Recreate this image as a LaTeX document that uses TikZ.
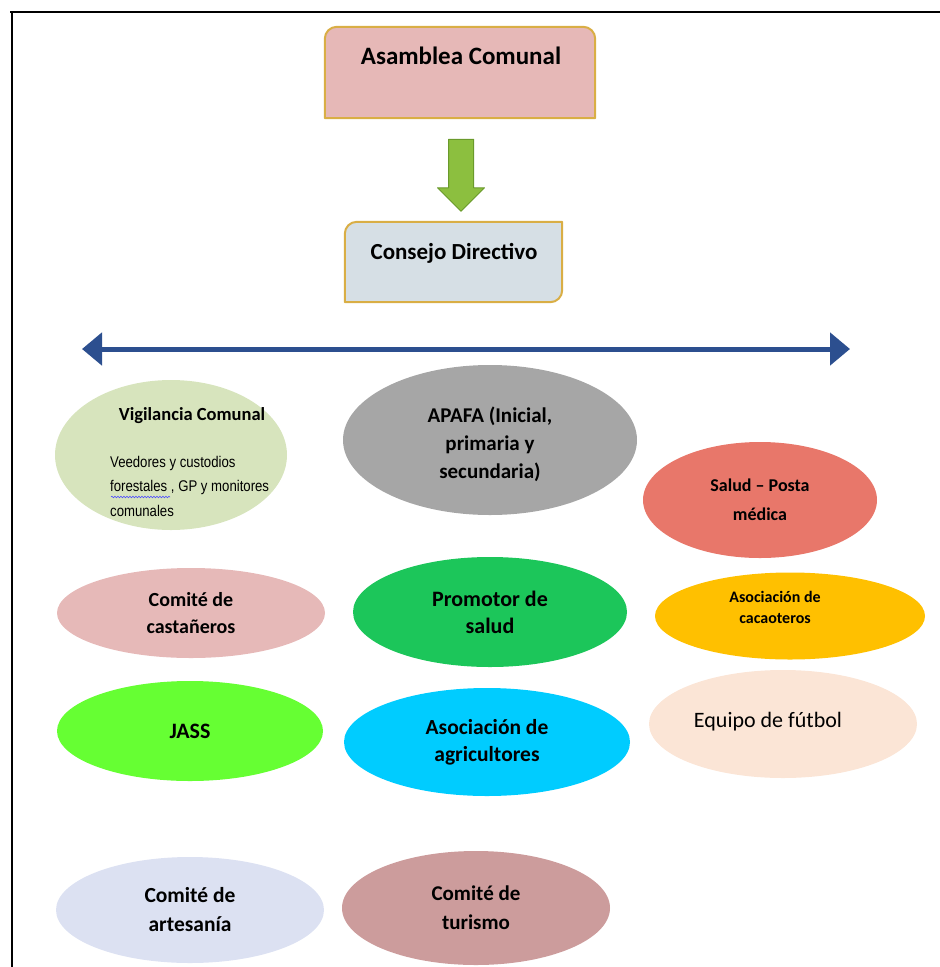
\documentclass[tikz,border=0pt]{standalone}
\usepackage{fontspec}
\setmainfont{Carlito}
\newfontfamily\narrowfont[FakeStretch=0.85]{Liberation Sans}
\usetikzlibrary{shapes.geometric,shapes.arrows,arrows.meta,decorations.pathmorphing}

\definecolor{borde}{HTML}{D9AE45}
\definecolor{asamfill}{HTML}{E6B8B7}
\definecolor{consfill}{HTML}{D6DFE5}
\definecolor{flechaverde}{HTML}{8CBF3F}
\definecolor{flechaborde}{HTML}{6A9A2B}
\definecolor{azul}{HTML}{2C4F8F}
\definecolor{vigilfill}{HTML}{D7E4BD}
\definecolor{apafafill}{HTML}{A6A6A6}
\definecolor{saludfill}{HTML}{E8776A}
\definecolor{castfill}{HTML}{E6B9B8}
\definecolor{promfill}{HTML}{1CC65A}
\definecolor{cacaofill}{HTML}{FFC000}
\definecolor{jassfill}{HTML}{66FF33}
\definecolor{agrifill}{HTML}{00CCFF}
\definecolor{futfill}{HTML}{FBE5D6}
\definecolor{artefill}{HTML}{DCE1F2}
\definecolor{turifill}{HTML}{CC9C9C}

\tikzset{
  caja/.style={rectangle, inner sep=0pt, text=black},
  orgel/.style={ellipse, draw=none, inner sep=0pt, align=center, text=black,
    font=\bfseries\fontsize{21}{28}\selectfont},
}

\begin{document}
\begin{tikzpicture}[x=1pt, y=-1pt, line join=round]

  %% ════ marco ════
  \draw[line width=2pt] (10,12) -- (940,12);
  \draw[line width=2pt] (12,12) -- (12,967);

  %% ════ cajas superiores ════
  \node[caja, minimum width=270pt, minimum height=91pt] (asam) at (460,72.5) {};
  \draw[borde, fill=asamfill, line width=2pt]
    (asam.south west) -- ([yshift=-12pt]asam.north west)
    arc[start angle=180, end angle=90, radius=12pt]
    -- ([xshift=-12pt]asam.north east)
    arc[start angle=90, end angle=0, radius=12pt]
    -- (asam.south east) -- cycle;
  \node[font=\bfseries\fontsize{25}{30}\selectfont] (asamtxt) at (461,56) {Asamblea Comunal};

  \node[caja, minimum width=217pt, minimum height=80pt] (cons) at (453.5,262) {};
  \draw[borde, fill=consfill, line width=2pt]
    (cons.south west) -- ([yshift=-12pt]cons.north west)
    arc[start angle=180, end angle=90, radius=12pt]
    -- (cons.north east) -- ([yshift=12pt]cons.south east)
    arc[start angle=0, end angle=-90, radius=12pt]
    -- cycle;
  \node[font=\bfseries\fontsize{23}{28}\selectfont] (constxt) at (454,253) {Consejo Directivo};

  %% flecha verde entre las dos cajas
  \node[single arrow, shape border rotate=270, draw=flechaborde, fill=flechaverde,
        line width=1pt, minimum width=46pt, minimum height=72pt, inner sep=0pt,
        text width=24pt, single arrow head extend=11pt] (flecha) at (461,169) {};

  %% ════ flecha doble ════
  \coordinate (izq) at (82,349);
  \coordinate (der) at (850,349);
  \draw[azul, line width=5pt, {Triangle[length=20pt,width=32pt]}-{Triangle[length=20pt,width=32pt]}] (izq) -- (der);

  %% ════ elipses ════
  \node[orgel, fill=vigilfill, minimum width=232pt, minimum height=150pt] (vigil) at (171,455) {};
  \node[font=\bfseries\fontsize{18.5}{22}\selectfont] (vigiltit) at (192,416) {Vigilancia Comunal};
  \node[anchor=north west, align=left, inner sep=0pt,
        font=\narrowfont\fontsize{15.5}{24.5}\selectfont] (vigildesc) at (110,456)
        {Veedores y custodios\\forestales , GP y monitores\\comunales};
  \draw[blue!70, line width=0.6pt, decorate, decoration={snake, amplitude=0.8pt, segment length=3pt}]
        (111,497) -- (170,497);

  \node[orgel, fill=apafafill, minimum width=294pt, minimum height=150pt] (apafa) at (490,440) {};
  \node[align=center, font=\bfseries\fontsize{21}{28}\selectfont] (apafatxt) at (490,444)
        {APAFA (Inicial,\\primaria y\\secundaria)};
  \node[orgel, fill=saludfill, minimum width=234pt, minimum height=116pt,
        font=\bfseries\fontsize{18}{29}\selectfont] (salud) at (760,500)
        {Salud -- Posta\\médica};

  \node[orgel, fill=castfill, minimum width=268pt, minimum height=90pt,
        font=\bfseries\fontsize{20}{27}\selectfont] (cast) at (191,613)
        {Comité de\\castañeros};
  \node[orgel, fill=promfill, minimum width=274pt, minimum height=110pt,
        font=\bfseries\fontsize{22}{27}\selectfont] (prom) at (490,612)
        {Promotor de\\salud};
  \node[orgel, fill=cacaofill, minimum width=270pt, minimum height=87pt] (cacao) at (790,616) {};
  \node[align=center, font=\bfseries\fontsize{16}{21}\selectfont] (cacaotxt) at (775,607)
        {Asociación de\\cacaoteros};

  \node[orgel, fill=jassfill, minimum width=266pt, minimum height=100pt,
        font=\bfseries\fontsize{22}{27}\selectfont] (jass) at (190,731) {JASS};
  \node[orgel, fill=agrifill, minimum width=286pt, minimum height=108pt,
        font=\bfseries\fontsize{21.5}{27}\selectfont] (agri) at (487,742)
        {Asociación de\\agricultores};
  \node[orgel, fill=futfill, minimum width=268pt, minimum height=108pt] (futbol) at (783,724) {};
  \node[font=\fontsize{22}{26}\selectfont] (futboltxt) at (768,722) {Equipo de fútbol};

  \node[orgel, fill=artefill, minimum width=268pt, minimum height=106pt,
        font=\bfseries\fontsize{21.5}{29}\selectfont] (arte) at (190,910)
        {Comité de\\artesanía};
  \node[orgel, fill=turifill, minimum width=268pt, minimum height=114pt,
        font=\bfseries\fontsize{21}{29}\selectfont] (turi) at (476,908)
        {Comité de\\turismo};

  % lienzo fijo
  \pgfresetboundingbox
  \path[use as bounding box] (0,0) rectangle (940,967);
\end{tikzpicture}
\end{document}
